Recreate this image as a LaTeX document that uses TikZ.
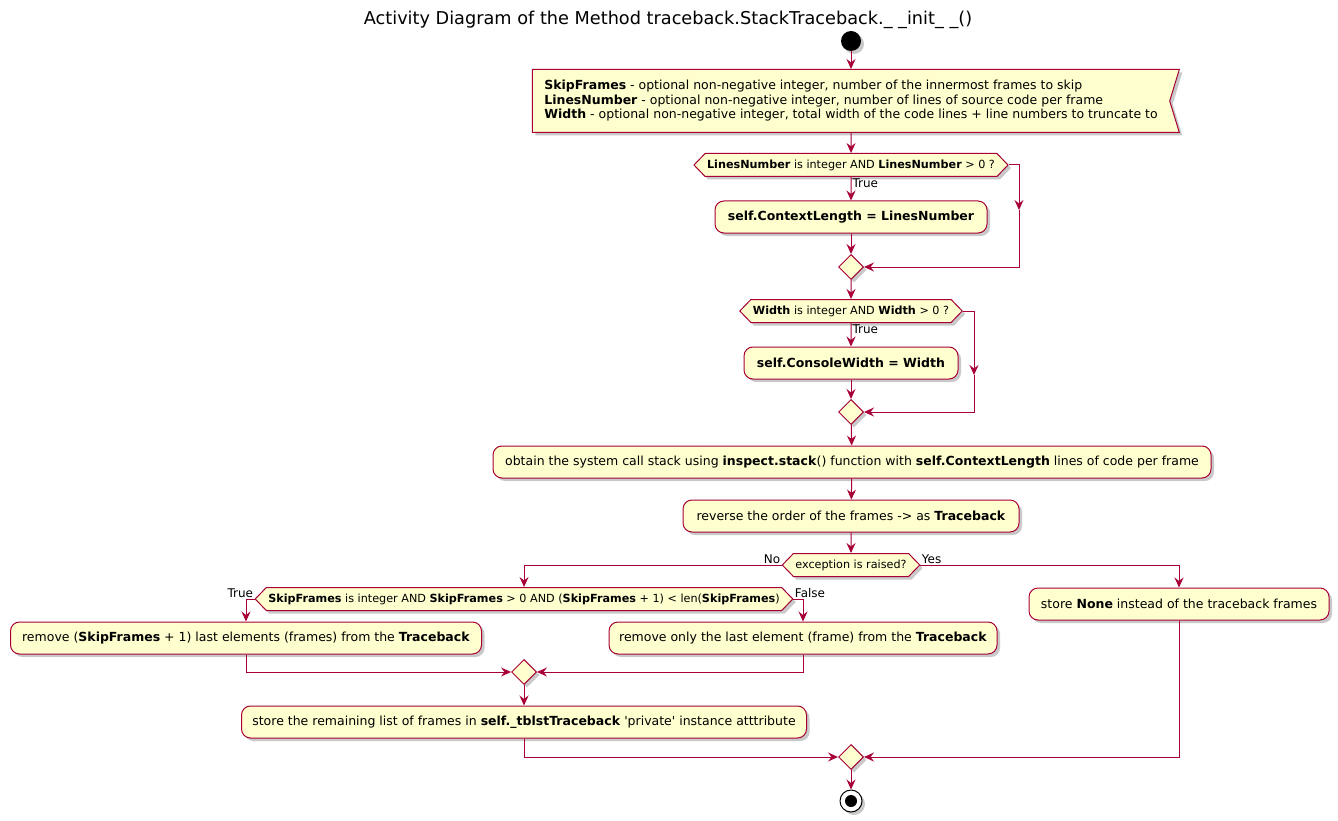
\documentclass[tikz,border=0pt]{standalone}
\usepackage{fontspec}
\setmainfont{DejaVu Sans}
\usetikzlibrary{arrows.meta,shapes.geometric,shapes.symbols,shadows}
\definecolor{umlred}{HTML}{A80036}
\definecolor{umlfill}{HTML}{FEFECE}

\begin{document}
\begin{tikzpicture}[x=1pt, y=-1pt, line width=1pt,
    umlshadow/.style={drop shadow={shadow xshift=3pt, shadow yshift=-3pt, opacity=0.35, fill=black!60}},
    action/.style={draw=umlred, fill=umlfill, rounded corners=9pt, minimum height=32pt,
      inner sep=2pt, font=\fontsize{12.5}{15}\selectfont, umlshadow},
    decision/.style={signal, signal to=west and east, signal pointer angle=92, draw=umlred,
      fill=umlfill, minimum height=23pt, inner sep=2pt, font=\fontsize{11.2}{13}\selectfont, umlshadow},
    merge/.style={diamond, draw=umlred, fill=umlfill, minimum size=25pt, inner sep=0pt, umlshadow},
    branchlabel/.style={font=\fontsize{12}{13}\selectfont, inner sep=1pt},
    flow/.style={draw=umlred, -{Stealth[length=10pt, width=9pt, inset=3.5pt]}}]

    % Page frame
    \fill[white] (0,0) rectangle (1338,821);
    \useasboundingbox (0,0) rectangle (1338,821);

    % Title
    \node[font=\fontsize{17.7}{21}\selectfont] (title) at (668,20)
      {Activity Diagram of the Method traceback.StackTraceback.\_ \_init\_ \_()};

    % Start and input parameters
    \node[circle, fill=black, minimum size=20pt, inner sep=0pt, umlshadow] (start) at (851,41) {};
    \node[signal, signal to=nowhere, signal from=east, signal pointer angle=146, draw=umlred,
      fill=umlfill, minimum width=647pt, minimum height=63pt, align=left,
      font=\fontsize{12.5}{14.5}\selectfont, umlshadow] (params) at (851,101)
      {\textbf{SkipFrames} - optional non-negative integer, number of the innermost frames to skip\\
       \textbf{LinesNumber} - optional non-negative integer, number of lines of source code per frame\\
       \textbf{Width} - optional non-negative integer, total width of the code lines + line numbers to truncate to};

    % First check: LinesNumber
    \node[decision, minimum width=312pt] (chklines) at (851,165)
      {\textbf{LinesNumber} is integer AND \textbf{LinesNumber} > 0 ?};
    \node[action, minimum width=272pt] (ctxlen) at (851,217) {\textbf{self.ContextLength = LinesNumber}};
    \node[merge] (mergelines) at (851,267) {};
    \coordinate (skiplines) at (1019,210);

    % Second check: Width
    \node[decision, minimum width=222pt] (chkwidth) at (851,311)
      {\textbf{Width} is integer AND \textbf{Width} > 0 ?};
    \node[action, minimum width=214pt] (conwidth) at (851,363) {\textbf{self.ConsoleWidth = Width}};
    \node[merge] (mergewidth) at (851,412) {};
    \coordinate (skipwidth) at (974,375);

    % Call stack
    \node[action, minimum width=718pt] (getstack) at (852,462)
      {obtain the system call stack using \textbf{inspect.stack}() function with \textbf{self.ContextLength} lines of code per frame};
    \node[action, minimum width=336pt] (reverse) at (851,516)
      {reverse the order of the frames -> as \textbf{Traceback}};

    % Exception branch
    \node[decision, minimum width=135pt] (chkexc) at (851,565) {exception is raised?};
    \node[decision, minimum width=537pt] (chkskip) at (524,599)
      {\textbf{SkipFrames} is integer AND \textbf{SkipFrames} > 0 AND (\textbf{SkipFrames} + 1) < len(\textbf{SkipFrames})};
    \node[action, minimum width=471pt] (removemany) at (246,638)
      {remove (\textbf{SkipFrames} + 1) last elements (frames) from the \textbf{Traceback}};
    \node[action, minimum width=388pt] (removeone) at (803,638)
      {remove only the last element (frame) from the \textbf{Traceback}};
    \node[merge] (mergeskip) at (524,672) {};
    \node[action, minimum width=565pt] (storelist) at (524,722)
      {store the remaining list of frames in \textbf{self.\_tblstTraceback} \textquotesingle private\textquotesingle{} instance atttribute};
    \node[action, minimum width=300pt] (storenone) at (1179,604)
      {store \textbf{None} instead of the traceback frames};
    \node[merge] (mergeexc) at (851,757) {};

    % Stop
    \node[circle, draw=black, line width=1pt, fill=white, minimum size=22pt, inner sep=0pt, umlshadow,
      path picture={\fill[black] (path picture bounding box.center) circle (6pt);}] (stop) at (851,801) {};

    % Connectors
    \draw[flow] (start) -- (params);
    \draw[flow] (params) -- (chklines);
    \draw[flow] (chklines) -- node[branchlabel, pos=0, anchor=north west] {True} (ctxlen);
    \draw[flow] (ctxlen) -- (mergelines);
    \draw[flow] (chklines.east) -| (skiplines);
    \draw[flow] (skiplines) |- (mergelines);
    \draw[flow] (mergelines) -- (chkwidth);
    \draw[flow] (chkwidth) -- node[branchlabel, pos=0, anchor=north west] {True} (conwidth);
    \draw[flow] (conwidth) -- (mergewidth);
    \draw[flow] (chkwidth.east) -| (skipwidth);
    \draw[flow] (skipwidth) |- (mergewidth);
    \draw[flow] (mergewidth) -- (getstack);
    \draw[flow] (getstack) -- (reverse);
    \draw[flow] (reverse) -- (chkexc);
    \draw[flow] (chkexc.west) -| node[branchlabel, pos=0, anchor=south east] {No} (chkskip);
    \draw[flow] (chkexc.east) -| node[branchlabel, pos=0, anchor=south west] {Yes} (storenone);
    \draw[flow] (chkskip.west) -| node[branchlabel, pos=0, anchor=south east] {True} (removemany);
    \draw[flow] (chkskip.east) -| node[branchlabel, pos=0, anchor=south west] {False} (removeone);
    \draw[flow] (removemany) |- (mergeskip);
    \draw[flow] (removeone) |- (mergeskip);
    \draw[flow] (mergeskip) -- (storelist);
    \draw[flow] (storelist) |- (mergeexc);
    \draw[flow] (storenone) |- (mergeexc);
    \draw[flow] (mergeexc) -- (stop);

\end{tikzpicture}
\end{document}
